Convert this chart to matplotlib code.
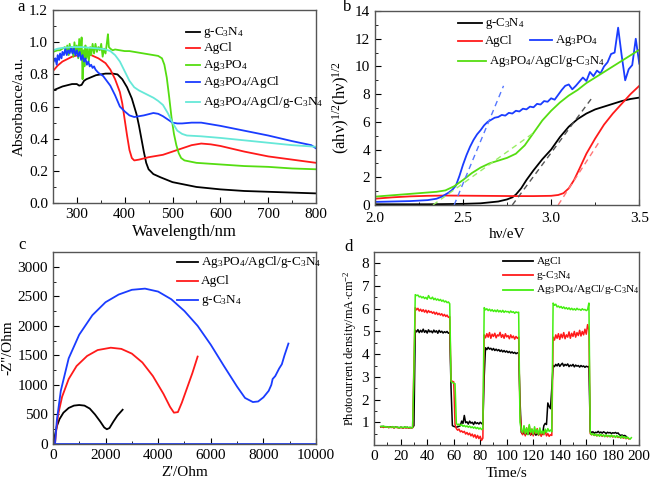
import numpy as np
import matplotlib
matplotlib.use('Agg')
import matplotlib.pyplot as plt
from matplotlib.lines import Line2D
from matplotlib.ticker import MultipleLocator

plt.rcParams['font.family'] = ['Liberation Serif', 'DejaVu Serif']
plt.rcParams['mathtext.fontset'] = 'custom'
plt.rcParams['mathtext.rm'] = 'Liberation Serif'
plt.rcParams['mathtext.it'] = 'Liberation Serif:italic'
plt.rcParams['font.size'] = 11

GCN = r'g-C$_3$N$_4$'
APO = r'Ag$_3$PO$_4$'
APO_AGCL = r'Ag$_3$PO$_4$/AgCl'
TERN = r'Ag$_3$PO$_4$/AgCl/g-C$_3$N$_4$'

C_BLACK = '#000000'
C_RED = '#ff1a1a'
C_GREEN = '#55dd11'
C_BLUE = '#1a3cff'
C_CYAN = '#66e8d8'

# ---------------- (a) UV-vis absorbance ----------------
a_gcn_x = [250, 270, 290, 300, 305, 310, 315, 320, 340, 360, 375, 385, 395, 405, 415, 425, 430, 435,
           440, 445, 450, 460, 475, 500, 550, 600, 650, 700, 750, 800]
a_gcn_y = [0.70, 0.725, 0.74, 0.74, 0.73, 0.735, 0.76, 0.77, 0.795, 0.805, 0.805, 0.80, 0.77, 0.72,
           0.65, 0.55, 0.48, 0.40, 0.32, 0.25, 0.21, 0.18, 0.16, 0.13, 0.10, 0.085, 0.075, 0.07, 0.065, 0.06]

a_agcl_x = [250, 260, 270, 290, 310, 330, 345, 360, 370, 380, 390, 395, 400, 405, 410, 415, 420, 430,
            450, 480, 500, 520, 540, 560, 580, 600, 650, 700, 750, 800]
a_agcl_y = [0.82, 0.855, 0.88, 0.91, 0.925, 0.92, 0.90, 0.87, 0.83, 0.77, 0.69, 0.62, 0.52, 0.42,
            0.33, 0.28, 0.265, 0.27, 0.285, 0.30, 0.32, 0.34, 0.36, 0.37, 0.365, 0.355, 0.32, 0.29, 0.27, 0.25]

a_apo_x = [250, 255, 260, 265, 270, 275, 278, 280, 283, 285, 288, 290, 293, 295, 298, 300, 303, 305,
           308, 310, 312, 314, 316, 318, 320, 323, 325, 328, 330, 333, 336, 339, 342, 345, 348, 351,
           354, 357, 360, 363, 365, 367, 370, 375, 380, 390, 400, 410, 420, 430, 440, 450, 460, 470,
           478, 483, 488, 493, 498, 503, 508, 513, 518, 525, 550, 600, 650, 700, 750, 800]
a_apo_y = [0.94, 0.945, 0.95, 0.95, 0.96, 0.97, 0.93, 0.98, 0.92, 0.99, 0.94, 0.97, 0.91, 1.00, 0.93,
           0.98, 0.90, 1.02, 0.92, 1.03, 0.77, 0.95, 0.85, 0.98, 0.90, 0.96, 0.88, 0.97, 0.92, 0.99,
           0.93, 0.99, 0.94, 0.97, 0.95, 0.99, 0.91, 0.96, 0.93, 1.00, 1.05, 0.97, 0.96, 0.95, 0.955,
           0.95, 0.945, 0.945, 0.94, 0.935, 0.93, 0.925, 0.92, 0.915, 0.90, 0.86, 0.78, 0.66, 0.53,
           0.43, 0.36, 0.31, 0.28, 0.265, 0.25, 0.24, 0.23, 0.225, 0.215, 0.21]

a_apoagcl_x = [250, 255, 258, 260, 263, 265, 268, 270, 273, 276, 279, 282, 285, 288, 291, 294, 297,
               300, 303, 306, 309, 312, 315, 318, 321, 324, 327, 330, 333, 336, 339, 342, 345, 350,
               355, 360, 370, 380, 390, 400, 410, 420, 440, 460, 470, 480, 490, 500, 510, 520, 540,
               560, 580, 600, 650, 700, 750, 790, 800]
a_apoagcl_y = [0.87, 0.90, 0.86, 0.92, 0.89, 0.93, 0.90, 0.94, 0.92, 0.96, 0.92, 0.95, 0.93, 0.97,
               0.93, 0.96, 0.92, 0.95, 0.91, 0.94, 0.89, 0.92, 0.88, 0.90, 0.86, 0.88, 0.85, 0.86,
               0.84, 0.85, 0.83, 0.82, 0.81, 0.80, 0.79, 0.77, 0.73, 0.67, 0.60, 0.57, 0.545, 0.535,
               0.545, 0.56, 0.555, 0.54, 0.52, 0.50, 0.495, 0.495, 0.50, 0.50, 0.49, 0.48, 0.45,
               0.42, 0.385, 0.36, 0.34]

a_tern_x = [250, 260, 270, 290, 310, 330, 350, 360, 370, 380, 390, 400, 410, 420, 430, 440, 450, 460,
            470, 480, 490, 500, 510, 520, 530, 560, 600, 650, 700, 750, 800]
a_tern_y = [0.95, 0.96, 0.965, 0.97, 0.97, 0.965, 0.96, 0.955, 0.945, 0.92, 0.88, 0.82, 0.76, 0.72,
            0.70, 0.685, 0.67, 0.655, 0.635, 0.61, 0.56, 0.50, 0.45, 0.43, 0.42, 0.415, 0.405, 0.39,
            0.375, 0.36, 0.35]

# ---------------- (b) Tauc plot ----------------
b_gcn_x = [2.0, 2.3, 2.5, 2.6, 2.7, 2.75, 2.78, 2.8, 2.83, 2.86, 2.9, 2.95, 3.0, 3.05, 3.1, 3.15, 3.2,
           3.25, 3.3, 3.35, 3.4, 3.45, 3.5]
b_gcn_y = [0.05, 0.05, 0.08, 0.12, 0.25, 0.4, 0.55, 0.75, 1.2, 1.8, 2.5, 3.3, 4.0, 4.9, 5.65, 6.2,
           6.6, 6.9, 7.1, 7.3, 7.5, 7.65, 7.75]

b_agcl_x = [2.0, 2.1, 2.2, 2.3, 2.4, 2.5, 2.6, 2.7, 2.8, 2.9, 3.0, 3.04, 3.07, 3.1, 3.13, 3.16, 3.2,
            3.25, 3.3, 3.35, 3.4, 3.45, 3.5]
b_agcl_y = [0.45, 0.55, 0.62, 0.66, 0.68, 0.67, 0.66, 0.65, 0.64, 0.64, 0.66, 0.72, 0.85, 1.2, 1.8,
            2.6, 3.7, 4.8, 5.8, 6.6, 7.3, 8.0, 8.6]

b_apo_x = [2.0, 2.1, 2.2, 2.3, 2.35, 2.38, 2.40, 2.42, 2.44, 2.46, 2.48, 2.50, 2.52, 2.54, 2.56, 2.58,
           2.60, 2.62, 2.64, 2.66, 2.68, 2.70, 2.72, 2.74, 2.76, 2.78, 2.80, 2.82, 2.84, 2.86, 2.88,
           2.90, 2.92, 2.94, 2.96, 2.98, 3.00, 3.02, 3.04, 3.06, 3.08, 3.10, 3.12, 3.14, 3.16, 3.18,
           3.20, 3.22, 3.24, 3.26, 3.28, 3.30, 3.32, 3.34, 3.36, 3.38, 3.40, 3.42, 3.44, 3.46, 3.48,
           3.50]
b_apo_y = [0.22, 0.25, 0.28, 0.35, 0.45, 0.6, 0.75, 0.9, 1.1, 1.4, 2.1, 2.9, 3.6, 4.2, 4.7, 5.1,
           5.4, 5.75, 6.0, 6.15, 6.3, 6.35, 6.5, 6.45, 6.65, 6.6, 6.8, 6.75, 6.95, 6.9, 7.1, 7.05,
           7.3, 7.25, 7.5, 7.45, 7.7, 7.6, 7.95, 8.3, 8.6, 8.7, 8.35, 8.6, 8.9, 9.2, 8.95, 9.6, 9.3,
           9.7, 9.5, 10.0, 10.3, 10.9, 11.0, 12.8, 10.8, 9.0, 9.8, 10.1, 12.0, 10.2]

b_tern_x = [2.0, 2.1, 2.2, 2.3, 2.35, 2.4, 2.45, 2.5, 2.55, 2.6, 2.65, 2.7, 2.75, 2.8, 2.85, 2.9,
            2.95, 3.0, 3.05, 3.1, 3.15, 3.2, 3.3, 3.4, 3.5]
b_tern_y = [0.6, 0.7, 0.8, 0.9, 0.95, 1.05, 1.35, 1.8, 2.3, 2.7, 3.0, 3.2, 3.4, 3.7, 4.3, 5.2, 6.1,
            6.8, 7.4, 7.9, 8.3, 8.8, 9.6, 10.4, 11.2]

# tangent (band gap) lines: (x0, x1), (y0, y1)
b_fit_apo = ([2.45, 2.73], [0.0, 8.6])
b_fit_tern = ([2.33, 2.90], [0.0, 5.2])
b_fit_gcn = ([2.78, 3.23], [0.0, 7.7])
b_fit_agcl = ([3.04, 3.27], [0.0, 4.5])

# ---------------- (c) Nyquist plot ----------------
c_tern_x = [50, 80, 150, 250, 400, 600, 800, 1000, 1200, 1400, 1600, 1800, 1950, 2050, 2150, 2300,
            2450, 2650]
c_tern_y = [0, 150, 300, 420, 530, 610, 650, 660, 650, 600, 500, 380, 280, 250, 270, 380, 480, 580]

c_agcl_x = [80, 120, 200, 350, 600, 900, 1300, 1700, 2200, 2600, 3000, 3400, 3800, 4200, 4450, 4600,
            4750, 4900, 5100, 5300, 5500]
c_agcl_y = [0, 200, 500, 800, 1100, 1320, 1490, 1590, 1630, 1610, 1530, 1380, 1150, 850, 630, 530,
            540, 700, 950, 1200, 1480]

c_gcn_x = [80, 150, 300, 600, 1000, 1500, 2000, 2500, 3000, 3500, 4000, 4500, 5000, 5500, 6000,
           6500, 7000, 7300, 7600, 7800, 8000, 8200, 8300, 8350, 8450, 8600, 8700, 8800, 8950]
c_gcn_y = [0, 400, 900, 1450, 1850, 2180, 2400, 2530, 2610, 2630, 2580, 2450, 2250, 2000, 1680,
           1320, 970, 780, 710, 720, 790, 900, 1000, 1100, 1150, 1280, 1350, 1500, 1700]

# ---------------- (d) photocurrent (segments: start time, values every 1 s) ----------------
d_agcl = [
    (5, [0.80, 0.82, 0.78, 0.81, 0.79, 0.80, 0.77, 0.80, 0.78, 0.79, 0.76, 0.79, 0.78, 0.77, 0.76,
         0.78, 0.77, 0.75, 0.79, 0.76, 0.78, 0.75, 0.77, 0.76, 0.77]),
    (30, [0.85, 5.05]),
    (32, [4.98, 5.08, 4.95, 5.05, 4.97, 5.10, 4.96, 5.04, 4.93, 5.07, 4.98, 5.02, 4.94, 5.06, 4.97,
          5.03, 4.92, 5.05, 4.96, 5.01, 4.93, 4.99, 4.95, 5.00, 4.92, 4.95]),
    (58, [2.5, 0.85, 0.82, 0.80, 0.78, 0.80, 0.82, 0.85]),
    (66, [1.05, 0.95, 1.30, 0.98, 1.02, 0.92, 1.05, 0.96, 1.00, 0.90, 1.02, 0.94, 0.98, 0.92, 1.00,
          0.95, 0.90]),
    (83, [3.0, 4.28, 4.20, 4.30, 4.22, 4.26, 4.18, 4.25, 4.16, 4.22, 4.15, 4.20, 4.12, 4.18, 4.10,
          4.16, 4.09, 4.14, 4.07, 4.12, 4.05, 4.10, 4.04, 4.08, 4.02, 4.06, 4.04]),
    (110, [2.0, 0.55, 0.48, 0.56, 0.45, 0.52, 0.47, 0.55, 0.44, 0.50, 0.46, 0.53, 0.43, 0.50, 0.45,
           0.52, 0.44, 0.48]),
    (128, [0.85, 0.95, 0.90, 1.85, 1.70, 1.60, 2.5]),
    (135, [3.50, 3.45, 3.55, 3.48, 3.58, 3.46, 3.54, 3.60, 3.47, 3.55, 3.50, 3.57, 3.45, 3.52, 3.48,
           3.55, 3.44, 3.52, 3.47, 3.50, 3.43, 3.50, 3.45, 3.48, 3.42, 3.47, 3.44, 3.46]),
    (163, [0.60, 0.55, 0.58, 0.52, 0.56, 0.54, 0.60, 0.53, 0.57, 0.52, 0.58, 0.55, 0.50, 0.56, 0.53,
           0.55, 0.50, 0.54, 0.52, 0.55, 0.51, 0.53, 0.45, 0.42, 0.44, 0.40, 0.42, 0.38]),
]

d_gcn = [
    (5, [0.79, 0.81, 0.77, 0.80, 0.78, 0.79, 0.76, 0.79, 0.77, 0.78, 0.75, 0.78, 0.77, 0.76, 0.75,
         0.77, 0.76, 0.74, 0.78, 0.75, 0.77, 0.74, 0.76, 0.75, 0.76]),
    (30, [3.6]),
    (31, [6.05, 5.95, 6.02, 5.90, 5.98, 5.88, 5.96, 5.85, 5.94, 5.82, 5.92, 5.84, 5.88, 5.80, 5.86,
          5.76, 5.84, 5.74, 5.80, 5.72, 5.78, 5.68, 5.75, 5.66, 5.72, 5.62, 5.65]),
    (58, [2.85, 2.80, 2.78, 0.90]),
    (62, [0.72, 0.65, 0.70, 0.58, 0.62, 0.55, 0.60, 0.48, 0.55, 0.45, 0.52, 0.40, 0.48, 0.35, 0.45,
          0.30, 0.42, 0.28, 0.38, 0.20, 0.30]),
    (83, [4.85, 4.72, 4.90, 4.75, 4.95, 4.70, 4.88, 4.78, 4.92, 4.72, 4.85, 4.80, 4.96, 4.74, 4.86,
          4.70, 4.90, 4.76, 4.82, 4.68, 4.85, 4.72, 4.80, 4.66, 4.78, 4.70, 4.75]),
    (110, [1.5]),
    (111, [0.60, 0.45, 0.80, 0.40, 0.75, 0.50, 0.85, 0.45, 0.70, 0.40, 0.65, 0.50, 0.72, 0.42, 0.60,
           0.38, 0.55, 0.45, 0.62, 0.40, 0.50, 0.38, 0.45, 0.42]),
    (135, [4.75, 4.62, 4.85, 4.70, 4.90, 4.65, 4.88, 4.72, 4.95, 4.68, 4.85, 4.75, 4.98, 4.70, 4.92,
           4.78, 5.00, 4.75, 4.95, 4.82, 5.05, 4.80, 5.00, 4.85, 5.10, 4.88, 5.30, 5.05]),
    (163, [0.50, 0.45, 0.48, 0.42, 0.46, 0.40, 0.45, 0.42, 0.44, 0.38, 0.43, 0.40, 0.42, 0.36, 0.41,
           0.38, 0.40, 0.35, 0.39, 0.36, 0.38, 0.33, 0.36, 0.32, 0.35, 0.30, 0.33, 0.28, 0.32, 0.27]),
]

d_tern = [
    (5, [0.82, 0.80, 0.84, 0.79, 0.81, 0.78, 0.80, 0.77, 0.79, 0.81, 0.76, 0.78, 0.80, 0.77, 0.75,
         0.79, 0.78, 0.76, 0.80, 0.77, 0.79, 0.76, 0.78, 0.75, 0.77]),
    (30, [3.3]),
    (31, [6.62, 6.58, 6.60, 6.52, 6.55, 6.48, 6.53, 6.45, 6.50, 6.42, 6.58, 6.47, 6.44, 6.51, 6.40,
          6.46, 6.38, 6.43, 6.36, 6.41, 6.33, 6.38, 6.30, 6.34, 6.27, 6.30, 6.22]),
    (58, [2.80, 2.75, 2.72, 2.70]),
    (62, [0.95, 0.88, 0.92, 0.85, 0.90, 0.82, 0.86, 0.80, 0.84, 0.78, 0.83, 0.76, 0.80, 0.74, 0.79,
          0.72, 0.77, 0.70, 0.75, 0.68, 0.72]),
    (83, [6.05, 5.95, 6.00, 5.92, 5.98, 5.90, 5.96, 5.88, 5.94, 5.87, 5.95, 5.86, 5.92, 5.85, 5.93,
          5.84, 5.90, 5.86, 5.88, 5.82, 5.90, 5.84, 5.87, 5.80, 5.86, 5.83, 5.85]),
    (110, [1.0]),
    (111, [0.65, 0.55, 0.85, 0.50, 0.75, 0.45, 0.90, 0.55, 0.70, 0.48, 0.80, 0.52, 0.68, 0.45, 0.75,
           0.50, 0.62, 0.48, 0.70, 0.55, 0.72, 0.60, 0.66, 0.58]),
    (135, [6.25, 6.15, 6.20, 6.08, 6.12, 6.05, 6.10, 6.02, 6.08, 6.00, 6.05, 5.98, 6.04, 5.96, 6.02,
           5.95, 6.00, 5.94, 6.02, 5.96, 5.98, 5.93, 6.00, 5.95, 5.97, 5.92, 5.96, 6.25]),
    (163, [0.55, 0.45, 0.50, 0.42, 0.48, 0.40, 0.46, 0.38, 0.47, 0.40, 0.44, 0.36, 0.45, 0.38, 0.42,
           0.35, 0.44, 0.37, 0.40, 0.33, 0.42, 0.35, 0.38, 0.30, 0.40, 0.32, 0.36, 0.28, 0.35, 0.30,
           0.25, 0.32]),
]


def join_segments(segs):
    t, v = [], []
    for start, vals in segs:
        t.extend(start + np.arange(len(vals)))
        v.extend(vals)
    return np.array(t, dtype=float), np.array(v)


def style_axis(ax, xmaj, xmin, ymaj, ymin):
    ax.xaxis.set_major_locator(MultipleLocator(xmaj))
    ax.xaxis.set_minor_locator(MultipleLocator(xmin))
    ax.yaxis.set_major_locator(MultipleLocator(ymaj))
    ax.yaxis.set_minor_locator(MultipleLocator(ymin))
    ax.tick_params(which='both', direction='in', labelsize=11)
    ax.tick_params(which='major', length=4)
    ax.tick_params(which='minor', length=2)
    for s in ax.spines.values():
        s.set_color('#555555')
        s.set_linewidth(1.0)


def key(ax, entries, fs):
    # entries: (line x0, line x1, y, colour, text) in axes fraction
    for x0, x1, y, col, txt in entries:
        ax.add_line(Line2D([x0, x1], [y, y], color=col, lw=1.3, transform=ax.transAxes))
        ax.text(x1 + 0.012, y, txt, transform=ax.transAxes, va='center', fontsize=fs)


fig = plt.figure(figsize=(6.53, 4.8), dpi=100)

# ---- a ----
ax = fig.add_axes([0.081, 0.577, 0.403, 0.402])
ax.plot(a_gcn_x, a_gcn_y, color=C_BLACK, lw=1.3)
ax.plot(a_agcl_x, a_agcl_y, color=C_RED, lw=1.3)
ax.plot(a_apo_x, a_apo_y, color=C_GREEN, lw=1.3)
ax.plot(a_apoagcl_x, a_apoagcl_y, color=C_BLUE, lw=1.3)
ax.plot(a_tern_x, a_tern_y, color=C_CYAN, lw=1.3)
ax.set_xlim(250, 800)
ax.set_ylim(0, 1.2)
style_axis(ax, 100, 50, 0.2, 0.1)
ax.set_yticks(np.arange(0, 1.21, 0.2))
ax.set_yticklabels(['0.0', '0.2', '0.4', '0.6', '0.8', '1.0', '1.2'])
ax.set_xlabel('Wavelength/nm', labelpad=2, fontsize=12)
ax.set_ylabel('Absorbance/a.u.', labelpad=2)
key(ax, [(0.505, 0.56, 0.886, C_BLACK, GCN),
         (0.505, 0.56, 0.803, C_RED, 'AgCl'),
         (0.505, 0.56, 0.715, C_GREEN, APO),
         (0.505, 0.56, 0.627, C_BLUE, APO_AGCL),
         (0.505, 0.56, 0.523, C_CYAN, TERN)], 9.5)
fig.text(0.026, 0.985, 'a', fontsize=12, va='center')

# ---- b ----
ax = fig.add_axes([0.574, 0.573, 0.405, 0.404])
ax.plot(b_gcn_x, b_gcn_y, color=C_BLACK, lw=1.3)
ax.plot(b_agcl_x, b_agcl_y, color=C_RED, lw=1.3)
ax.plot(b_apo_x, b_apo_y, color=C_BLUE, lw=1.3)
ax.plot(b_tern_x, b_tern_y, color=C_GREEN, lw=1.3)
ax.plot(*b_fit_apo, color='#5577ff', lw=1.0, ls=(0, (4, 3)))
ax.plot(*b_fit_tern, color='#99ee66', lw=1.0, ls=(0, (4, 3)))
ax.plot(*b_fit_gcn, color='#555555', lw=1.0, ls=(0, (4, 3)))
ax.plot(*b_fit_agcl, color='#ff7777', lw=1.0, ls=(0, (4, 3)))
ax.set_xlim(2.0, 3.5)
ax.set_ylim(0, 14)
style_axis(ax, 0.5, 0.25, 2, 1)
ax.tick_params(axis='x', which='major', pad=5)
ax.set_xlabel('hν/eV', labelpad=2)
ax.set_ylabel(r'(ahν)$^{1/2}$(hν)$^{1/2}$', labelpad=2, fontsize=12)
key(ax, [(0.314, 0.405, 0.938, C_BLACK, GCN),
         (0.314, 0.405, 0.845, C_RED, 'AgCl'),
         (0.587, 0.670, 0.850, C_BLUE, APO),
         (0.314, 0.420, 0.742, C_GREEN, TERN)], 9.2)
fig.text(0.525, 0.985, 'b', fontsize=12, va='center')

# ---- c ----
ax = fig.add_axes([0.081, 0.075, 0.403, 0.400])
ax.axhline(0, color=C_BLUE, lw=1.3)
ax.plot(c_tern_x, c_tern_y, color=C_BLACK, lw=1.3)
ax.plot(c_agcl_x, c_agcl_y, color=C_RED, lw=1.3)
ax.plot(c_gcn_x, c_gcn_y, color=C_BLUE, lw=1.3)
ax.set_xlim(0, 10000)
ax.set_ylim(0, 3250)
style_axis(ax, 2000, 1000, 500, 250)
ax.set_xlabel("Z'/Ohm", labelpad=3)
ax.set_ylabel("-Z''/Ohm", labelpad=2)
key(ax, [(0.471, 0.551, 0.948, C_BLACK, TERN),
         (0.471, 0.551, 0.849, C_RED, 'AgCl'),
         (0.471, 0.551, 0.750, C_BLUE, GCN)], 9.5)
fig.text(0.028, 0.49, 'c', fontsize=12, va='center')

# ---- d ----
ax = fig.add_axes([0.573, 0.073, 0.406, 0.402])
for segs, col in [(d_agcl, C_BLACK), (d_gcn, C_RED), (d_tern, '#44ee11')]:
    t, v = join_segments(segs)
    ax.plot(t, v, color=col, lw=1.1)
ax.set_xlim(0, 200)
ax.set_ylim(0, 8.5)
style_axis(ax, 20, 10, 1, 0.5)
ax.set_yticks(range(1, 9))
ax.set_xlabel('Time/s', labelpad=3)
ax.set_ylabel(r'Photocurrent density/mA$\cdot$cm$^{-2}$', labelpad=2, fontsize=9)
key(ax, [(0.487, 0.60, 0.952, C_BLACK, 'AgCl'),
         (0.487, 0.60, 0.880, C_RED, GCN),
         (0.487, 0.60, 0.805, '#44ee11', TERN)], 8.2)
fig.text(0.527, 0.485, 'd', fontsize=12, va='center')

fig.savefig('out.png', dpi=100)
